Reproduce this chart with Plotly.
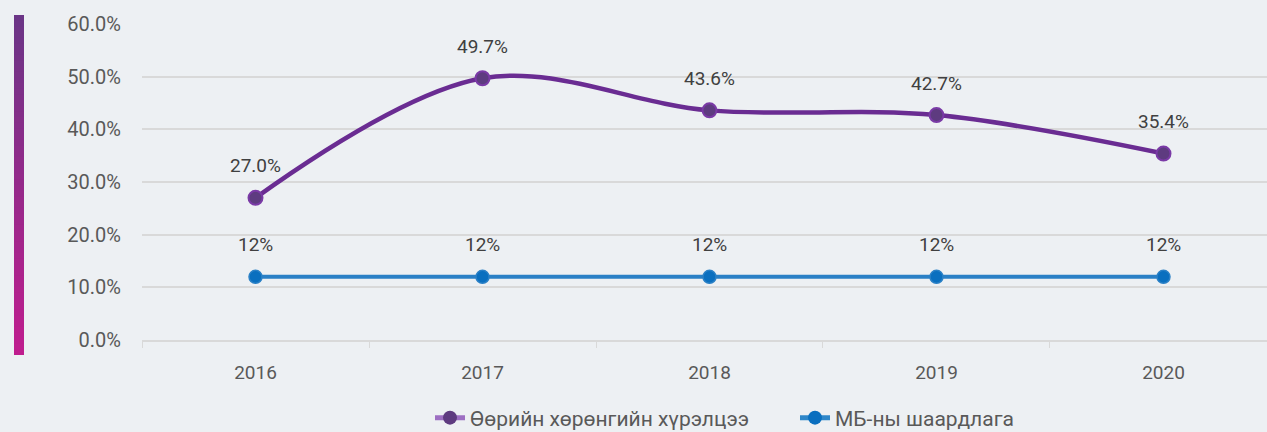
import plotly.graph_objects as go

years = ["2016", "2017", "2018", "2019", "2020"]
own_capital = [0.270, 0.497, 0.436, 0.427, 0.354]
own_labels = ["27.0%", "49.7%", "43.6%", "42.7%", "35.4%"]
requirement = [0.12, 0.12, 0.12, 0.12, 0.12]
req_labels = ["12%", "12%", "12%", "12%", "12%"]
name_own = "Өөрийн хөрөнгийн хүрэлцээ"
name_req = "МБ-ны шаардлага"

FONT = "Roboto, Open Sans, sans-serif"
BG = "#EDF0F3"

fig = go.Figure()
fig.add_trace(go.Scatter(
    x=years, y=requirement, name=name_req, mode="lines+markers",
    line=dict(color="#2A80C6", width=4),
    marker=dict(size=13, color="#0A6FBF", line=dict(color="#2A80C6", width=1.5)),
    showlegend=False,
))
fig.add_trace(go.Scatter(
    x=years, y=own_capital, name=name_own, mode="lines+markers",
    line=dict(color="#6A2C92", width=4.5, shape="spline", smoothing=1.0),
    marker=dict(size=14, color="#5E3B80", line=dict(color="#7A3AA6", width=2)),
    showlegend=False,
))
# legend-only entries (lighter legend line colours as in the reference)
fig.add_trace(go.Scatter(
    x=[None], y=[None], name=name_own, mode="lines+markers",
    line=dict(color="#9D6FC2", width=5),
    marker=dict(size=14, color="#5E3B80"),
))
fig.add_trace(go.Scatter(
    x=[None], y=[None], name=name_req, mode="lines+markers",
    line=dict(color="#2F87C9", width=5),
    marker=dict(size=14, color="#0A6FBF"),
))

for i, (y, t) in enumerate(zip(own_capital, own_labels)):
    fig.add_annotation(x=i, y=y, xref="x", yref="y", text=t, showarrow=False, yshift=32,
                       font=dict(family=FONT, size=19, color="#404040"))
for i, (y, t) in enumerate(zip(requirement, req_labels)):
    fig.add_annotation(x=i, y=y, xref="x", yref="y", text=t, showarrow=False, yshift=32,
                       font=dict(family=FONT, size=19, color="#404040"))

# gradient bar on the left (paper coordinates)
plot_left, plot_w = 142, 1125
plot_h = 316
x0 = (14 - plot_left) / plot_w
x1 = (24 - plot_left) / plot_w
ytop = (340 - 15) / plot_h
ybot = (340 - 355) / plot_h
top_rgb = (0x6A, 0x35, 0x86)
bot_rgb = (0xC0, 0x1D, 0x8E)
n = 60
for i in range(n):
    f = (i + 0.5) / n
    c = tuple(round(b + (t - b) * f) for t, b in zip(top_rgb, bot_rgb))
    ya = ybot + (ytop - ybot) * i / n
    yb = ybot + (ytop - ybot) * (i + 1) / n
    if i < n - 1:
        yb += 0.008
    fig.add_shape(type="rect", xref="paper", yref="paper",
                  x0=x0, x1=x1, y0=ya, y1=yb,
                  fillcolor="rgb(%d,%d,%d)" % c, line=dict(width=0), layer="above")

fig.update_layout(
    width=1267, height=432,
    margin=dict(l=142, r=0, t=24, b=92, autoexpand=False),
    paper_bgcolor=BG, plot_bgcolor=BG,
    font=dict(family=FONT, size=19, color="#595959"),
    legend=dict(orientation="h", x=(430 - 142) / 1125, xanchor="left",
                y=(340 - 418) / 316, yanchor="middle",
                font=dict(family=FONT, size=21, color="#595959"),
                bgcolor="rgba(0,0,0,0)", entrywidth=320, traceorder="normal"),
    xaxis=dict(type="category", range=[-0.5, 4.456], showgrid=False, automargin=False,
               showline=True, linecolor="#D9D9D9", linewidth=1.5,
               ticks="outside", tickson="boundaries", ticklen=6, tickcolor="#D9D9D9",
               ticklabelstandoff=14, tickfont=dict(size=19, color="#595959"),
               zeroline=False, fixedrange=True),
    yaxis=dict(range=[0, 0.6], dtick=0.1, tickformat=".1%", showgrid=True, automargin=False,
               gridcolor="#D9D9D9", gridwidth=1.5, zeroline=False, showline=False,
               ticks="", ticklabelstandoff=20, tickfont=dict(size=20, color="#595959")),
)

fig.write_html("out.html")
